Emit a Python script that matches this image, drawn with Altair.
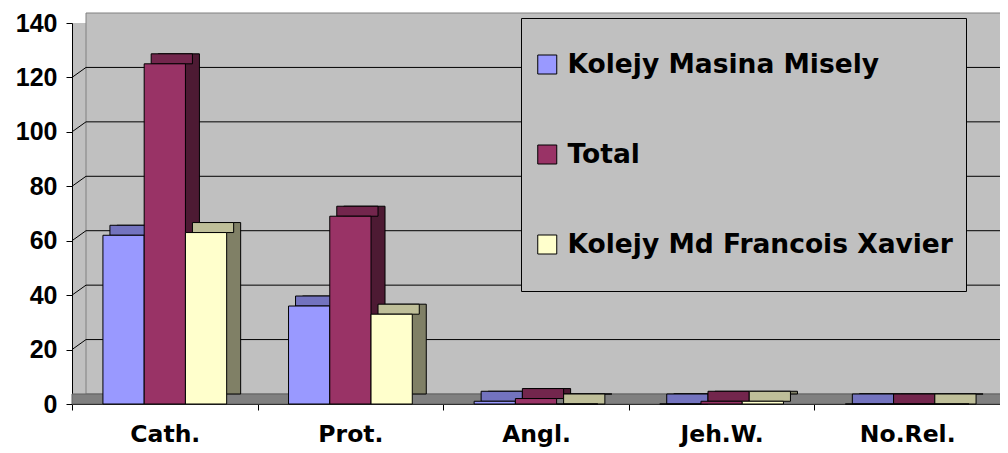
import altair as alt
import pandas as pd

categories = ["Cath.", "Prot.", "Angl.", "Jeh.W.", "No.Rel."]
series = ["Kolejy Masina Misely", "Total", "Kolejy Md Francois Xavier"]
masina = [62, 36, 1, 0, 0]
total = [125, 69, 2, 1, 0]
xavier = [63, 33, 0, 1, 0]
y_ticks = [0, 20, 40, 60, 80, 100, 120, 140]

front_colors = ["#9999FF", "#993366", "#FFFFCC"]
top_colors = ["#7373BF", "#73264D", "#BFBF99"]
side_colors = ["#4D4D80", "#4D1A33", "#808066"]

rows = []
for s, vals in zip(series, [masina, total, xavier]):
    for c, v in zip(categories, vals):
        rows.append({"cat": c, "series": s, "value": v})
df = pd.DataFrame(rows)
grid_df = pd.DataFrame({"v": y_ticks[1:-1]})
wall_df = pd.DataFrame({"lo": [y_ticks[0]], "hi": [y_ticks[-1]]})

W, H = 928, 381
STEP = W / len(categories)
DX, DY = 14, -10

x_axis = alt.Axis(title=None, labelFont="DejaVu Sans", labelFontSize=23.5,
                  labelFontWeight="bold", labelColor="black", labelAngle=0,
                  tickBand="extent", tickSize=6, tickColor="black",
                  domainColor="black", labelPadding=12, grid=False)
y_axis = alt.Axis(title=None, values=y_ticks, labelFont="Liberation Sans",
                  labelFontSize=25, labelFontWeight="bold", labelColor="black",
                  tickSize=6, tickColor="black", domainColor="black",
                  labelPadding=9, grid=False)
x_scale = alt.Scale(domain=categories, paddingInner=0, paddingOuter=0)
y_scale = alt.Scale(domain=[y_ticks[0], y_ticks[-1]], nice=False)

def xenc():
    return alt.X("cat:N", sort=categories, scale=x_scale, axis=x_axis)

def off(shift):
    return alt.XOffset("series:N", sort=series,
                       scale=alt.Scale(domain=series, range=[shift, STEP + shift],
                                       paddingInner=0, paddingOuter=0.75))

wall = alt.Chart(wall_df).mark_rect(
    fill="#C0C0C0", stroke="#808080", strokeWidth=1,
    xOffset=DX, x2Offset=DX, yOffset=DY, y2Offset=DY
).encode(
    x=alt.value(0), x2=alt.value(W),
    y=alt.Y("lo:Q", scale=y_scale, axis=y_axis), y2="hi:Q"
)

floor = alt.Chart(wall_df).mark_rect(
    fill="#808080", stroke="#606060", strokeWidth=1, x2Offset=DX, y2Offset=DY
).encode(
    x=alt.value(0), x2=alt.value(W),
    y=alt.Y("lo:Q", scale=y_scale, axis=y_axis), y2="lo:Q"
)

diag = alt.Chart(grid_df).mark_rule(color="black", strokeWidth=1,
                                    x2Offset=DX, y2Offset=DY).encode(
    x=alt.value(0), x2=alt.value(0),
    y=alt.Y("v:Q", scale=y_scale, axis=y_axis), y2="v:Q"
)

grid = alt.Chart(grid_df).mark_rule(color="black", strokeWidth=1,
                                    xOffset=DX, x2Offset=DX, yOffset=DY).encode(
    x=alt.value(0), x2=alt.value(W),
    y=alt.Y("v:Q", scale=y_scale, axis=y_axis)
)

back = alt.Chart(df).mark_bar(stroke="black", strokeWidth=1,
                              yOffset=DY, y2Offset=DY).encode(
    x=xenc(), xOffset=off(DX),
    y=alt.Y("value:Q", scale=y_scale, axis=y_axis),
    color=alt.Color("series:N", scale=alt.Scale(domain=series, range=side_colors),
                    legend=None)
)

tops = alt.Chart(df).mark_bar(stroke="black", strokeWidth=1, y2Offset=DY).encode(
    x=xenc(), xOffset=off(DX / 2),
    y=alt.Y("value:Q", scale=y_scale, axis=y_axis), y2="value:Q",
    color=alt.Color("series:N", scale=alt.Scale(domain=series, range=top_colors),
                    legend=None)
)

front = alt.Chart(df).mark_bar(stroke="black", strokeWidth=1).encode(
    x=xenc(), xOffset=off(0),
    y=alt.Y("value:Q", scale=y_scale, axis=y_axis),
    color=alt.Color("series:N", sort=series,
                    scale=alt.Scale(domain=series, range=front_colors),
                    legend=alt.Legend(
                        title=None, orient="none", legendX=449, legendY=-5,
                        fillColor="#C0C0C0", strokeColor="black", padding=13,
                        symbolType="square", symbolSize=361,
                        symbolStrokeColor="black", symbolStrokeWidth=1,
                        labelFont="DejaVu Sans", labelFontSize=26.5,
                        labelFontWeight="bold", labelColor="black",
                        labelOffset=7, rowPadding=23, clipHeight=67,
                        labelLimit=600))
)

chart = alt.layer(wall, floor, diag, grid, back, tops, front).resolve_scale(
    color="independent", xOffset="independent"
).properties(
    width=W, height=H,
    autosize=alt.AutoSizeParams(type="none"),
    padding={"left": 64, "top": 15, "right": 0, "bottom": 48}
).configure_view(stroke=None, fill="#C0C0C0")

chart.save("out.html", embed_options={"renderer": "svg", "actions": False})
